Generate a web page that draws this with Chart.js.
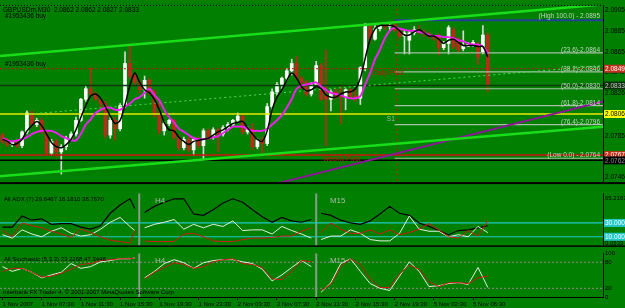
<!DOCTYPE html>
<html><head><meta charset="utf-8">
<script src="https://cdn.jsdelivr.net/npm/chart.js@4.4.1/dist/chart.umd.min.js"></script>
<style>
html,body{margin:0;padding:0;background:#007f00;overflow:hidden;}
#wrap{position:relative;width:625px;height:308px;background:#007f00;}
#wrap canvas{position:absolute;left:0;}
</style></head><body><div id="wrap">
<canvas id="cMain" width="625" height="188" style="top:0px"></canvas>
<canvas id="cAdx" width="625" height="63" style="top:188px"></canvas>
<canvas id="cSto" width="625" height="60" style="top:248px"></canvas>
</div>
<script>
// ---------------- DATA ----------------
const headerText = 'GBPUSDm,M30  2.0862 2.0862 2.0827 2.0833';
const timeLabels = ['1 Nov 2007','1 Nov 07:30','1 Nov 11:30','1 Nov 15:30','1 Nov 19:30','1 Nov 23:30','2 Nov 03:30','2 Nov 07:30','2 Nov 11:30','2 Nov 15:30','2 Nov 19:30','5 Nov 02:30','5 Nov 06:30'];
const timeTickBars = [0,8,16,24,32,40,48,56,64,72,80,88,96];

const openP = [2.0786,2.0780,2.0777,2.0779,2.0776,2.0789,2.0807,2.0796,2.0800,2.0789,
2.0769,2.0780,2.0770,2.0775,2.0783,2.0787,2.0800,2.0820,2.0830,2.0825,
2.0820,2.0816,2.0786,2.0800,2.0792,2.0814,2.0854,2.0842,2.0836,2.0829,
2.0838,2.0827,2.0805,2.0790,2.0797,2.0800,2.0784,2.0774,2.0782,2.0772,
2.0782,2.0776,2.0790,2.0784,2.0791,2.0787,2.0793,2.0796,2.0800,2.0804,
2.0789,2.0792,2.0775,2.0781,2.0778,2.0813,2.0827,2.0834,2.0840,2.0847,
2.0854,2.0840,2.0836,2.0825,2.0834,2.0852,2.0823,2.0820,2.0827,2.0824,
2.0822,2.0829,2.0823,2.0821,2.0850,2.0889,2.0877,2.0887,2.0890,2.0889,
2.0890,2.0886,2.0880,2.0876,2.0883,2.0886,2.0884,2.0882,2.0880,2.0880,
2.0869,2.0873,2.0886,2.0876,2.0868,2.0870,2.0871,2.0872,2.0865,2.0881];
const highP = [2.0788,2.0783,2.0780,2.0780,2.0790,2.0809,2.0809,2.0802,2.0802,2.0790,
2.0782,2.0782,2.0777,2.0785,2.0789,2.0803,2.0821,2.0833,2.0850,2.0827,
2.0822,2.0818,2.0803,2.0803,2.0816,2.0865,2.0871,2.0845,2.0838,2.0842,
2.0840,2.0829,2.0820,2.0799,2.0801,2.0801,2.0786,2.0784,2.0784,2.0784,
2.0784,2.0792,2.0792,2.0793,2.0793,2.0795,2.0798,2.0801,2.0807,2.0806,
2.0794,2.0797,2.0783,2.0784,2.0816,2.0830,2.0836,2.0841,2.0849,2.0858,
2.0861,2.0842,2.0838,2.0836,2.0856,2.0854,2.0867,2.0829,2.0830,2.0832,
2.0830,2.0830,2.0829,2.0851,2.0892,2.0891,2.0890,2.0892,2.0892,2.0893,
2.0892,2.0888,2.0886,2.0885,2.0889,2.0890,2.0886,2.0884,2.0881,2.0882,
2.0875,2.0890,2.0888,2.0879,2.0885,2.0874,2.0876,2.0874,2.0890,2.0883];
const lowP = [2.0778,2.0775,2.0775,2.0774,2.0774,2.0787,2.0794,2.0794,2.0787,2.0767,
2.0767,2.0765,2.0749,2.0772,2.0781,2.0785,2.0799,2.0818,2.0823,2.0819,
2.0812,2.0783,2.0783,2.0781,2.0790,2.0812,2.0840,2.0833,2.0826,2.0821,
2.0824,2.0803,2.0787,2.0786,2.0795,2.0782,2.0772,2.0772,2.0770,2.0767,
2.0774,2.0763,2.0782,2.0782,2.0770,2.0785,2.0790,2.0794,2.0798,2.0787,
2.0787,2.0772,2.0773,2.0769,2.0776,2.0810,2.0824,2.0830,2.0838,2.0843,
2.0839,2.0830,2.0823,2.0823,2.0832,2.0819,2.0776,2.0809,2.0820,2.0797,
2.0810,2.0821,2.0818,2.0815,2.0847,2.0874,2.0876,2.0885,2.0886,2.0885,
2.0884,2.0878,2.0863,2.0863,2.0881,2.0882,2.0880,2.0878,2.0876,2.0862,
2.0867,2.0863,2.0868,2.0865,2.0866,2.0870,2.0870,2.0853,2.0863,2.0827];
const closeP = [2.0780,2.0777,2.0779,2.0776,2.0789,2.0807,2.0796,2.0800,2.0789,2.0769,
2.0780,2.0770,2.0775,2.0783,2.0787,2.0800,2.0820,2.0830,2.0825,2.0820,
2.0816,2.0786,2.0800,2.0792,2.0814,2.0854,2.0842,2.0836,2.0829,2.0838,
2.0827,2.0805,2.0790,2.0797,2.0800,2.0784,2.0774,2.0782,2.0772,2.0782,
2.0776,2.0790,2.0784,2.0791,2.0787,2.0793,2.0796,2.0800,2.0804,2.0789,
2.0792,2.0775,2.0781,2.0778,2.0813,2.0827,2.0834,2.0840,2.0847,2.0854,
2.0840,2.0836,2.0825,2.0834,2.0852,2.0820,2.0820,2.0827,2.0824,2.0822,
2.0829,2.0823,2.0821,2.0850,2.0889,2.0877,2.0887,2.0890,2.0889,2.0890,
2.0886,2.0880,2.0883,2.0883,2.0886,2.0884,2.0882,2.0880,2.0878,2.0869,
2.0873,2.0888,2.0870,2.0867,2.0871,2.0872,2.0874,2.0860,2.0881,2.0833];
const maFast = [2.0782,2.0780,2.0777,2.0778,2.0782,2.0790,2.0795,2.0799,2.0795,2.0787,
2.0779,2.0775,2.0774,2.0777,2.0782,2.0791,2.0803,2.0814,2.0823,2.0825,
2.0821,2.0813,2.0804,2.0797,2.0800,2.0815,2.0833,2.0845,2.0836,2.0829,
2.0826,2.0820,2.0810,2.0798,2.0791,2.0790,2.0784,2.0780,2.0777,2.0780,
2.0781,2.0782,2.0783,2.0786,2.0789,2.0791,2.0794,2.0797,2.0798,2.0799,
2.0793,2.0787,2.0782,2.0780,2.0790,2.0810,2.0822,2.0829,2.0838,2.0845,
2.0840,2.0832,2.0828,2.0829,2.0832,2.0830,2.0824,2.0822,2.0822,2.0825,
2.0827,2.0827,2.0830,2.0840,2.0859,2.0877,2.0887,2.0890,2.0890,2.0890,
2.0889,2.0885,2.0881,2.0881,2.0884,2.0886,2.0883,2.0880,2.0880,2.0877,
2.0873,2.0876,2.0877,2.0874,2.0871,2.0871,2.0871,2.0870,2.0870,2.0860];
const maSlow = [2.0783,2.0781,2.0780,2.0781,2.0782,2.0784,2.0787,2.0789,2.0790,2.0790,
2.0790,2.0788,2.0785,2.0783,2.0781,2.0781,2.0787,2.0796,2.0801,2.0807,
2.0810,2.0812,2.0812,2.0810,2.0810,2.0813,2.0816,2.0820,2.0822,2.0826,
2.0830,2.0824,2.0819,2.0810,2.0803,2.0798,2.0792,2.0789,2.0786,2.0783,
2.0782,2.0782,2.0783,2.0784,2.0785,2.0788,2.0791,2.0794,2.0794,2.0794,
2.0792,2.0790,2.0790,2.0790,2.0792,2.0796,2.0800,2.0805,2.0812,2.0820,
2.0830,2.0833,2.0834,2.0835,2.0836,2.0832,2.0829,2.0826,2.0825,2.0824,
2.0822,2.0821,2.0821,2.0823,2.0834,2.0845,2.0858,2.0867,2.0878,2.0885,
2.0888,2.0887,2.0886,2.0885,2.0885,2.0884,2.0883,2.0881,2.0880,2.0880,
2.0879,2.0879,2.0878,2.0876,2.0875,2.0873,2.0872,2.0872,2.0870,2.0864];

const priceTicks = [2.0905, 2.0885, 2.0865, 2.0846, 2.0826, 2.0785, 2.0746];
// trend objects (bar index, price)
const channelUpper = [[-0.5, 2.0861], [122.5, 2.0910]];
const channelLower = [[-0.5, 2.0747], [122.5, 2.0794]];
const channelMid = [[5.6, 2.0806], [122.5, 2.0852]];
const trendPurple = [[56, 2.0740], [122.5, 2.0818]];
// horizontal levels
const levelYellow = 2.0806, levelBid = 2.0833, levelBuy = 2.0849, levelWeekly = 2.0767, levelBlack = 2.0762;
// fibonacci
const fibStartBar = 80;
const fibHigh = 2.0895;
const fibLevels = [2.0864, 2.0846, 2.0830, 2.0814, 2.0796, 2.0764];
const fibLabels = ['(23.6)-2.0864', '(38.2)-2.0846', '(50.0)-2.0830', '(61.8)-2.0814', '(76.4)-2.0796', '(Low 0.0) - 2.0764'];
const fibHighLabel = '(High 100.0) - 2.0895';
const vLineBar = 80.5;
const notes = [
  {x: 0.5, y: 2.0899, text: '#1953436 buy', color: '#000000'},
  {x: 0.5, y: 2.0853, text: '#1953436 buy', color: '#000000'},
  {x: 75.6, y: 2.0845, text: 'Daily Pivot', color: '#d01010'},
  {x: 78.4, y: 2.0801, text: 'S1', color: '#a8bca8'},
  {x: 65.4, y: 2.0763, text: 'Weekly Pivot', color: '#d01010'}
];
const priceBoxes = [
  {v: 2.0849, t: '2.0849', bg: '#c0301a', fg: '#ffffff'},
  {v: 2.0833, t: '2.0833', bg: '#0c300c', fg: '#c8c8c8'},
  {v: 2.0806, t: '2.0806', bg: '#ffff00', fg: '#000000'},
  {v: 2.0767, t: '2.0767', bg: '#c0301a', fg: '#ffffff'},
  {v: 2.0762, t: '2.0762', bg: '#000000', fg: '#909090'}
];

// multi-timeframe indicator segments (bar positions)
const seg1X = [0,2,4,6,8,10,12,14,16,18,20,22,24,26,27];
const seg2X = [29,31,33,35,37,39,41,43,45,47,49,51,53,55,57,59,61,63];
const seg3X = [65,67,69,71,73,75,77,79,81,83,85,87,89,91,93,95,97,99];
const tfSepBars = [27.9, 64];
const tfLabels = ['H4', 'M15'];
const tfLabelBars = [31.1, 66.8];

const adxMain1 = [24,24,40,34,36,28,29,29,24,21,26,44,56,65,51];
const adxPlus1 = [13,8,20,14,10,18,23,15,11,13,21,31,38,25,19];
const adxMinus1 = [19,10,30,26,23,18,14,9,21,16,10,5,3,1,19];
const adxMain2 = [45,54,60,65,65,43,41,49,59,65,60,49,39,31,38,33,31,35];
const adxPlus2 = [23,28,31,35,21,28,23,28,25,33,19,20,20,14,25,19,14,8];
const adxMinus2 = [4,3,3,3,14,15,10,4,3,3,6,8,8,9,11,11,18,23];
const adxMain3 = [44,41,34,30,28,33,43,54,44,41,30,25,19,13,19,20,23,26];
const adxPlus3 = [6,11,11,20,15,6,4,4,15,40,21,18,18,10,13,10,25,16];
const adxMinus3 = [16,30,21,15,15,20,14,20,13,16,21,29,20,10,8,19,11,33];
const adxLevels = [30, 10];
const adxTicks = [65.2167, 0.0533];
const adxText = 'All ADX (7) 29.6467 16.1810 38.7670';

const stoK1 = [70,59,66,57,44,51,57,77,66,70,81,84,88,88,90];
const stoD1 = [59,66,66,57,46,48,55,64,75,77,84,86,88,88,90];
const stoK2 = [44,59,77,86,79,66,79,84,86,86,81,77,64,37,51,68,84,70];
const stoD2 = [42,57,68,79,75,66,70,81,86,88,77,75,68,42,40,59,84,81];
const stoK3 = [11,33,77,88,59,31,20,15,48,81,59,24,26,31,33,29,68,22];
const stoD3 = [15,29,70,88,75,42,22,22,53,73,64,35,24,33,33,31,44,48];
const stoLevels = [80, 20];
const stoTicks = [100, 80, 20, 0];
const stoText = 'All Stochastic (5,3,3) 23.2268 47.3448';
const copyText = 'Interbank FX Trader 4, \u00A9 2001-2007 MetaQuotes Software Corp.';

// ---------------- STYLE / HELPERS ----------------
const FONT = '"Liberation Sans", Arial, sans-serif';
const X_MIN = -0.5, X_MAX = 122.5, AXIS_W = 22;
const RED = '#c0281c';

function lineDs(pts, color, width, dash, order) {
  return {type: 'line', data: pts.map(p => ({x: p[0], y: p[1]})), borderColor: color, borderWidth: width,
    borderDash: dash || [], pointRadius: 0, fill: false, tension: 0, order: order === undefined ? 4 : order};
}
function hline(v, x0, color, width, dash) { return lineDs([[x0, v], [X_MAX, v]], color, width, dash, 4); }
function vline(x, lo, hi, color, width, dash) { return lineDs([[x, lo], [x, hi]], color, width, dash, 4); }
function segData(xs, vals) {
  const out = [];
  xs.forEach((xa, k) => {
    xa.forEach((x, j) => out.push({x: x, y: vals[k][j]}));
    if (k < xs.length - 1) out.push({x: xa[xa.length - 1] + 0.5, y: null});
  });
  return out;
}
function indLine(vals, color, width, order) {
  return {type: 'line', data: segData([seg1X, seg2X, seg3X], vals), borderColor: color, borderWidth: width,
    pointRadius: 0, fill: false, tension: 0, spanGaps: false, order: order};
}
function rightAxis(min, max, ticks, fmt, size) {
  return {type: 'linear', position: 'right', min: min, max: max,
    afterFit: s => { s.width = AXIS_W; },
    afterBuildTicks: s => { s.ticks = ticks.map(v => ({value: v})); },
    ticks: {autoSkip: false, font: {family: FONT, size: size}, color: '#000', padding: 2, callback: fmt},
    grid: {display: false, drawTicks: false},
    border: {display: true, color: '#000', width: 1}};
}
function drawBox(c, right, y, t, bg, fg) {
  c.fillStyle = bg; c.fillRect(right + 1, y - 4, 625 - right - 1, 8);
  c.fillStyle = fg; c.font = '6.5px ' + FONT; c.textAlign = 'left'; c.textBaseline = 'middle';
  c.fillText(t, right + 2, y + 0.5);
}
const baseOpts = {responsive: false, devicePixelRatio: 1, animation: false, events: [],
  plugins: {legend: {display: false}, tooltip: {enabled: false}}};

// ---------------- MAIN PRICE CHART ----------------
const bars = openP.map((_, i) => i);
const up = bars.map(i => closeP[i] >= openP[i]);
const mainDatasets = [
  {type: 'bar', data: bars.map(i => ({x: i, y: [lowP[i], highP[i]]})), backgroundColor: bars.map(i => up[i] ? '#d8d8d8' : RED),
    barThickness: 1, grouped: false, borderWidth: 0, order: 7},
  {type: 'bar', data: bars.map(i => ({x: i, y: [openP[i], closeP[i]]})), backgroundColor: bars.map(i => up[i] ? '#ffffff' : RED),
    barThickness: 3, grouped: false, borderWidth: 0, minBarLength: 1, order: 6},
  lineDs(channelUpper, '#19dd19', 2.5),
  lineDs(channelLower, '#19dd19', 2.5),
  lineDs(channelMid, '#4ee04e', 1, [2, 3]),
  lineDs(trendPurple, '#8a1896', 2),
  hline(levelYellow, X_MIN, '#e8e800', 1.5),
  hline(levelBid, X_MIN, '#0e3a0e', 1.5),
  hline(levelBuy, X_MIN, '#c81010', 1, [2, 2]),
  hline(levelWeekly, X_MIN, '#d01010', 1.5),
  hline(levelBlack, X_MIN, '#000000', 1.5),
  hline(fibHigh, fibStartBar, '#22409a', 2),
  ...fibLevels.map(v => hline(v, fibStartBar, '#a8c0a8', 1.2)),
  vline(vLineBar, 2.07, 2.095, '#d01010', 1, [2, 3]),
  {type: 'line', data: bars.map(i => ({x: i, y: maSlow[i]})), borderColor: '#f020f0', borderWidth: 2, pointRadius: 0, tension: 0.3, order: 2},
  {type: 'line', data: bars.map(i => ({x: i, y: maFast[i]})), borderColor: '#000000', borderWidth: 1.5, pointRadius: 0, tension: 0.3, order: 1}
];
const mainOverlay = {id: 'mainOverlay', afterDraw(chart) {
  const c = chart.ctx, {left, right, top, bottom} = chart.chartArea, xs = chart.scales.x, ys = chart.scales.y;
  c.save();
  c.strokeStyle = '#000'; c.lineWidth = 1; c.setLineDash([1, 2]);
  c.beginPath(); c.moveTo(0, top - 0.5); c.lineTo(right, top - 0.5); c.stroke(); c.setLineDash([]);
  c.fillStyle = '#000'; c.fillRect(0, bottom, 625, 2);
  c.font = '6.5px ' + FONT; c.textAlign = 'left'; c.textBaseline = 'top'; c.fillStyle = '#000';
  c.fillText(headerText, left + 3, top + 1);
  c.textAlign = 'right'; c.textBaseline = 'bottom';
  c.fillStyle = '#c8d4c8';
  c.fillText(fibHighLabel, right - 3, ys.getPixelForValue(fibHigh) - 0.5);
  fibLevels.forEach((v, i) => c.fillText(fibLabels[i], right - 3, ys.getPixelForValue(v) + 0.5));
  c.textAlign = 'left'; c.textBaseline = 'middle';
  notes.forEach(n => { c.fillStyle = n.color; c.fillText(n.text, xs.getPixelForValue(n.x), ys.getPixelForValue(n.y)); });
  priceBoxes.forEach(b => drawBox(c, right, ys.getPixelForValue(b.v), b.t, b.bg, b.fg));
  c.restore();
}};
new Chart(document.getElementById('cMain'), {
  type: 'bar',
  data: {datasets: mainDatasets},
  options: Object.assign({}, baseOpts, {
    layout: {padding: {top: 2, bottom: 2, left: 0, right: 0}},
    scales: {
      x: {type: 'linear', min: X_MIN, max: X_MAX, display: false, offset: false},
      y: rightAxis(2.074136, 2.090864, priceTicks, v => v.toFixed(4), 6.5)
    }
  }),
  plugins: [mainOverlay]
});

// ---------------- ADX PANEL ----------------
const adxDatasets = [
  ...adxLevels.map(v => hline(v, X_MIN, '#22c8c8', 1.2)),
  ...tfSepBars.map(b => vline(b, -10, 100, '#8c9c8c', 2)),
  indLine([adxMain1, adxMain2, adxMain3], '#000000', 1.2, 3),
  indLine([adxPlus1, adxPlus2, adxPlus3], '#e4f0e4', 1, 2),
  indLine([adxMinus1, adxMinus2, adxMinus3], '#d01818', 1, 1)
];
function tfOverlay(id, panelText, extra) {
  return {id: id, afterDraw(chart) {
    const c = chart.ctx, {left, right, top, bottom} = chart.chartArea, xs = chart.scales.x;
    c.save();
    c.font = '6px ' + FONT; c.textAlign = 'left'; c.textBaseline = 'middle'; c.fillStyle = '#000';
    c.fillText(panelText, left + 4, top + 5.5);
    c.font = '8px ' + FONT; c.fillStyle = '#a8bca8';
    tfLabels.forEach((t, i) => c.fillText(t, xs.getPixelForValue(tfLabelBars[i]), top + 7));
    if (extra) extra(chart, c);
    c.restore();
  }};
}
new Chart(document.getElementById('cAdx'), {
  type: 'line',
  data: {datasets: adxDatasets},
  options: Object.assign({}, baseOpts, {
    layout: {padding: {top: 2, bottom: 1, left: 0, right: 0}},
    scales: {
      x: {type: 'linear', min: X_MIN, max: X_MAX, display: false},
      y: rightAxis(-2.5, 72.5, adxTicks, v => v.toFixed(4), 6)
    }
  }),
  plugins: [tfOverlay('adxOverlay', adxText, (chart, c) => {
    const {right, bottom} = chart.chartArea, ys = chart.scales.y;
    c.fillStyle = '#000'; c.fillRect(0, bottom, 625, 1.5);
    adxLevels.forEach(v => drawBox(c, right, ys.getPixelForValue(v), v.toFixed(4), '#22c8c8', '#ffffff'));
  })]
});

// ---------------- STOCHASTIC PANEL ----------------
const stoDatasets = [
  ...stoLevels.map(v => hline(v, X_MIN, '#8c8c8c', 1, [2, 2])),
  ...tfSepBars.map(b => vline(b, -10, 110, '#8c9c8c', 2)),
  indLine([stoK1, stoK2, stoK3], '#e4f0e4', 1, 2),
  indLine([stoD1, stoD2, stoD3], '#d01818', 1, 1)
];
new Chart(document.getElementById('cSto'), {
  type: 'line',
  data: {datasets: stoDatasets},
  options: Object.assign({}, baseOpts, {
    layout: {padding: {top: 3.5, bottom: 0, left: 0, right: 0}},
    scales: {
      x: {type: 'linear', position: 'bottom', min: X_MIN, max: X_MAX,
        afterBuildTicks: s => { s.ticks = timeTickBars.map(v => ({value: v})); },
        afterFit: s => { s.height = 11; },
        ticks: {autoSkip: false, maxRotation: 0, minRotation: 0, align: 'start', padding: 1,
          font: {family: FONT, size: 6}, color: '#000', callback: (v, i) => timeLabels[i]},
        grid: {display: true, drawOnChartArea: false, drawTicks: true, tickLength: 3, color: '#000'},
        border: {display: true, color: '#000', width: 1}},
      y: rightAxis(0, 100, stoTicks, v => String(v), 6)
    }
  }),
  plugins: [tfOverlay('stoOverlay', stoText, (chart, c) => {
    const {left, bottom} = chart.chartArea;
    c.font = '6px ' + FONT; c.fillStyle = '#000'; c.textAlign = 'left'; c.textBaseline = 'middle';
    c.fillText(copyText, left + 3, bottom - 5);
  })]
});
</script></body></html>
